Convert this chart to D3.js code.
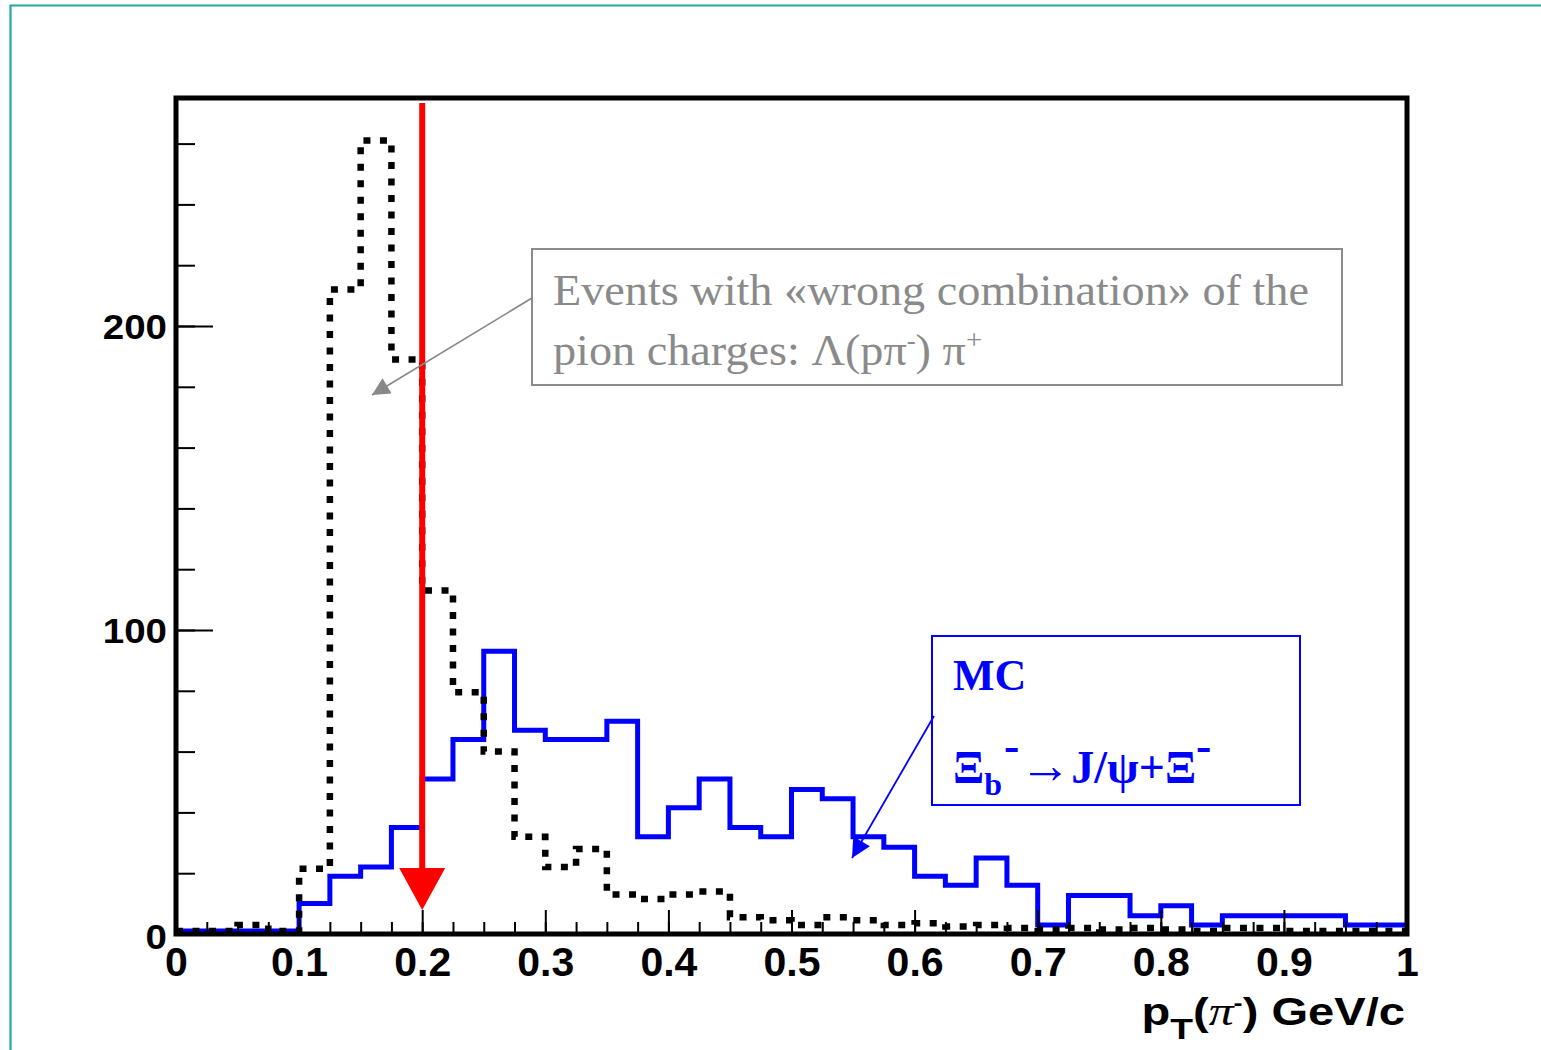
<!DOCTYPE html>
<html>
<head>
<meta charset="utf-8">
<script src="https://cdn.jsdelivr.net/npm/d3@7"></script>
<style>
  body { margin: 0; background: #fff; }
  svg { display: block; }
</style>
</head>
<body>
<div id="chart"></div>
<script>
// pT(pi-) histograms, 40 bins of 0.025 GeV/c between 0 and 1
const binWidth = 0.025;
const mcValues = [
    1, 1, 1, 1, 10, 19, 22, 35, 51, 64,
    93, 67, 64, 64, 70, 32, 41.5, 51, 35, 32,
    47.5, 44.5, 32, 28.5, 19, 16, 25, 16, 3, 12.7,
    12.7, 6, 9.3, 3, 6, 6, 6, 6, 3, 3
];
const wrongValues = [
    1, 1, 3, 1, 21.5, 212, 261, 189, 113, 79.5,
    60, 32, 22, 28, 13, 11.5, 13, 14, 5.5, 4.5,
    3, 5.5, 4.5, 3, 3.5, 2.5, 3, 2, 1.5, 2,
    1.5, 2, 1.5, 1, 2, 2, 1, 1, 1, 1
];
const cutValue = 0.2;
const xMajorTicks = [0, 0.1, 0.2, 0.3, 0.4, 0.5, 0.6, 0.7, 0.8, 0.9, 1];
const yMajorTicks = [0, 100, 200];
const yMinorTicks = [0, 20, 40, 60, 80, 100, 120, 140, 160, 180, 200, 220, 240, 260];

const width = 1541;
const height = 1050;
const frame = {left: 176, right: 1407, top: 98, bottom: 934};

const svg = d3.select("#chart").append("svg")
    .attr("width", width)
    .attr("height", height);

// teal page border (top + left)
svg.append("path")
    .attr("d", "M10.5,1050 L10.5,5.5 L1541,5.5")
    .attr("fill", "none")
    .attr("stroke", "#1fa9a1")
    .attr("stroke-width", 2.2);

const x = d3.scaleLinear().domain([0, 1]).range([frame.left, frame.right]);
const y = d3.scaleLinear().domain([0, 275]).range([frame.bottom, frame.top]);

function steps(values) {
    const pts = values.map((v, i) => [i * binWidth, v]);
    pts.push([values.length * binWidth, values[values.length - 1]]);
    return pts;
}

const line = d3.line()
    .x(d => x(d[0]))
    .y(d => y(d[1]))
    .curve(d3.curveStepAfter);

// MC histogram (blue)
svg.append("path")
    .datum(steps(mcValues))
    .attr("d", line)
    .attr("fill", "none")
    .attr("stroke", "#0000ff")
    .attr("stroke-width", 5);

// wrong-sign combination (dotted black)
svg.append("path")
    .datum(steps(wrongValues))
    .attr("d", line)
    .attr("fill", "none")
    .attr("stroke", "#000")
    .attr("stroke-width", 6.5)
    .attr("stroke-dasharray", "7,9.5");

// axes
const yAxisMinor = svg.append("g")
    .attr("transform", `translate(${frame.left},0)`)
    .call(d3.axisLeft(y).tickValues(yMinorTicks).tickSize(-19).tickFormat(""));
const yAxis = svg.append("g")
    .attr("transform", `translate(${frame.left},0)`)
    .call(d3.axisLeft(y).tickValues(yMajorTicks).tickSize(-37).tickPadding(9).tickFormat(d3.format("d")));

const xMinor = d3.range(0, 41).map(i => i * binWidth);
const xAxisMinor = svg.append("g")
    .attr("transform", `translate(0,${frame.bottom})`)
    .call(d3.axisBottom(x).tickValues(xMinor).tickSize(-12).tickFormat(""));
const xAxis = svg.append("g")
    .attr("transform", `translate(0,${frame.bottom})`)
    .call(d3.axisBottom(x).tickValues(xMajorTicks).tickSize(-24).tickPadding(13)
        .tickFormat(d => d === 0 ? "0" : d === 1 ? "1" : d3.format(".1f")(d)));

[yAxisMinor, yAxis, xAxisMinor, xAxis].forEach(g => {
    g.select(".domain").remove();
    g.selectAll(".tick line").attr("stroke", "#000").attr("stroke-width", 2);
});

const yLabelScale = 1.1;
yAxis.selectAll("text")
    .attr("font-family", "Liberation Sans, Arial, sans-serif")
    .attr("font-weight", "bold")
    .attr("font-size", 35)
    .attr("fill", "#000")
    .attr("dy", "0.36em")
    .attr("transform", `scale(${yLabelScale},1)`)
    .attr("x", -9 / yLabelScale);
yAxis.select(".tick:first-of-type text").attr("dy", "0.42em");

xAxis.selectAll("text")
    .attr("font-family", "Liberation Sans, Arial, sans-serif")
    .attr("font-weight", "bold")
    .attr("font-size", 41)
    .attr("fill", "#000");

// frame
svg.append("rect")
    .attr("x", frame.left)
    .attr("y", frame.top)
    .attr("width", frame.right - frame.left)
    .attr("height", frame.bottom - frame.top)
    .attr("fill", "none")
    .attr("stroke", "#000")
    .attr("stroke-width", 5);

// cut arrow (red)
const cx = x(cutValue);
svg.append("line")
    .attr("x1", cx).attr("x2", cx)
    .attr("y1", 103).attr("y2", 872)
    .attr("stroke", "#ff0000")
    .attr("stroke-width", 6);
svg.append("path")
    .attr("d", `M${cx - 23},868 L${cx + 23},868 L${cx},910 Z`)
    .attr("fill", "#ff0000");

// x axis title
const xt = svg.append("text")
    .attr("transform", "translate(1405,1025) scale(1.24,1)")
    .attr("text-anchor", "end")
    .attr("font-family", "Liberation Sans, Arial, sans-serif")
    .attr("font-weight", "bold")
    .attr("font-size", 38)
    .attr("fill", "#000");
xt.append("tspan").text("p");
xt.append("tspan").attr("dy", 14).attr("font-size", 30).text("T");
xt.append("tspan").attr("dy", -14).text("(");
xt.append("tspan").attr("font-family", "Liberation Serif, serif").attr("font-style", "italic")
    .attr("font-weight", "normal").attr("font-size", 40).text("π");
xt.append("tspan").attr("dy", -15).attr("font-size", 22).text("-");
xt.append("tspan").attr("dy", 15).text(") GeV/c");

// grey annotation box
const arrowDefs = svg.append("defs");
function marker(id, color, size) {
    arrowDefs.append("marker")
        .attr("id", id)
        .attr("viewBox", "0 0 10 10")
        .attr("refX", 10).attr("refY", 5)
        .attr("markerUnits", "userSpaceOnUse")
        .attr("markerWidth", size).attr("markerHeight", size * 0.8)
        .attr("orient", "auto")
        .append("path")
        .attr("d", "M0,0 L10,5 L0,10 Z")
        .attr("fill", color);
}
marker("greyHead", "#888", 22);
marker("blueHead", "#0000ff", 24);

svg.append("rect")
    .attr("x", 532).attr("y", 249)
    .attr("width", 810).attr("height", 136)
    .attr("fill", "none")
    .attr("stroke", "#8c8c8c")
    .attr("stroke-width", 2);
svg.append("line")
    .attr("x1", 532).attr("y1", 298)
    .attr("x2", 372).attr("y2", 395)
    .attr("stroke", "#888")
    .attr("stroke-width", 1.6)
    .attr("marker-end", "url(#greyHead)");

const serif = "Liberation Serif, Times New Roman, serif";
const g1 = svg.append("text")
    .attr("x", 553).attr("y", 305)
    .attr("font-family", serif)
    .attr("font-size", 45)
    .attr("fill", "#8a8a8a")
    .text("Events with «wrong combination» of the");
const g2 = svg.append("text")
    .attr("x", 553).attr("y", 365)
    .attr("font-family", serif)
    .attr("font-size", 45)
    .attr("fill", "#8a8a8a");
g2.append("tspan").text("pion charges: Λ(pπ");
g2.append("tspan").attr("dy", -16).attr("font-size", 26).text("-");
g2.append("tspan").attr("dy", 16).text(") π");
g2.append("tspan").attr("dy", -16).attr("font-size", 28).text("+");

// fit first grey line to its width in the reference
const w1 = g1.node().getComputedTextLength();
const s1 = 756 / w1;
g1.attr("transform", `translate(553,0) scale(${s1},1) translate(-553,0)`);
g2.attr("transform", `translate(553,0) scale(${s1},1) translate(-553,0)`);

// MC box (blue)
svg.append("rect")
    .attr("x", 932).attr("y", 636)
    .attr("width", 368).attr("height", 169)
    .attr("fill", "none")
    .attr("stroke", "#0000ff")
    .attr("stroke-width", 2);
svg.append("line")
    .attr("x1", 934).attr("y1", 716)
    .attr("x2", 852).attr("y2", 858)
    .attr("stroke", "#0000ff")
    .attr("stroke-width", 1.8)
    .attr("marker-end", "url(#blueHead)");

svg.append("text")
    .attr("x", 953).attr("y", 690)
    .attr("font-family", serif)
    .attr("font-weight", "bold")
    .attr("font-size", 44)
    .attr("fill", "#0000ff")
    .text("MC");
const mc2 = svg.append("text")
    .attr("x", 953).attr("y", 783)
    .attr("font-family", serif)
    .attr("font-weight", "bold")
    .attr("font-size", 46)
    .attr("fill", "#0000ff");
mc2.append("tspan").text("Ξ");
mc2.append("tspan").attr("dy", 12).attr("font-size", 32).text("b");
mc2.append("tspan").attr("dx", 2).attr("dy", -34).attr("font-size", 46).text("-");
mc2.append("tspan").attr("dy", 22).attr("font-size", 52).attr("font-weight", "normal").text("→");
mc2.append("tspan").text("J/ψ+Ξ");
mc2.append("tspan").attr("dy", -22).attr("font-size", 46).text("-");
</script>
</body>
</html>
